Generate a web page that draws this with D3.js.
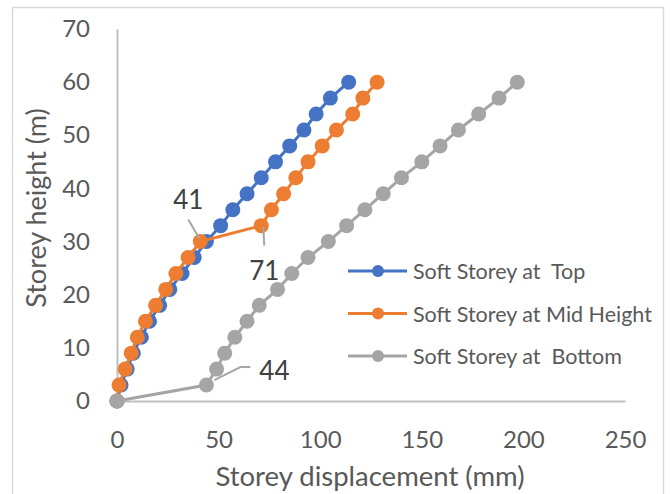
<!DOCTYPE html>
<html>
<head>
<meta charset="utf-8">
<script src="https://cdn.jsdelivr.net/npm/d3@7"></script>
<style>
  body { margin: 0; background: #fff; }
  svg text { font-family: Lato, "Open Sans", sans-serif; }
</style>
</head>
<body>
<div id="chart"></div>
<script>
var width = 670,
    height = 494;

// storey heights (m) and displacements (mm)
var heights = [0, 3, 6, 9, 12, 15, 18, 21, 24, 27, 30, 33, 36, 39, 42, 45, 48, 51, 54, 57, 60];
var topDisp = [0, 2, 5, 8, 12, 16, 21, 26, 32, 38, 44, 51, 57, 64, 71, 78, 85, 92, 98, 105, 114];
var midDisp = [0, 1, 4, 7, 10, 14, 19, 24, 29, 35, 41, 71, 76, 82, 88, 94, 101, 108, 116, 121, 128];
var bottomDisp = [0, 44, 49, 53, 58, 64, 70, 79, 86, 94, 104, 113, 122, 131, 140, 150, 159, 168, 178, 188, 197];

var seriesNames = ["Soft Storey at  Top", "Soft Storey at Mid Height", "Soft Storey at  Bottom"];
var seriesColors = ["#4472C4", "#ED7D31", "#A5A5A5"];
var xTicks = [0, 50, 100, 150, 200, 250];
var yTicks = [0, 10, 20, 30, 40, 50, 60, 70];

var series = [topDisp, midDisp, bottomDisp].map(function (d, i) {
  return {
    name: seriesNames[i],
    color: seriesColors[i],
    points: d.map(function (v, j) { return {x: v, y: heights[j]}; })
  };
});

// labelled points: series index, point index, label offset, leader path offsets
var labels = [
  {s: 1, p: 10, dx: -12, dy: -43, leader: [[-12, -22], [-1, -3]]},
  {s: 1, p: 11, dx: 3, dy: 44, leader: [[2, 1], [3, 20]]},
  {s: 2, p: 1, dx: 68, dy: -15, leader: [[8, -5], [34, -18], [44, -18]]}
];

var x = d3.scaleLinear().domain([0, 250]).range([117, 625]);
var y = d3.scaleLinear().domain([0, 70]).range([401, 29]);

var svg = d3.select('#chart').append('svg')
    .attr('width', width)
    .attr('height', height);

svg.append('rect')
    .attr('x', 12.5).attr('y', 7.5)
    .attr('width', 651).attr('height', 500)
    .style('fill', '#fff')
    .style('stroke', '#d9d9d9')
    .style('stroke-width', 1.5);

var xAxis = svg.append('g')
    .attr('transform', 'translate(0,' + y(0) + ')')
    .call(d3.axisBottom(x).tickValues(xTicks).tickSize(0).tickSizeOuter(0).tickPadding(30));
var yAxis = svg.append('g')
    .attr('transform', 'translate(' + x(0) + ',0)')
    .call(d3.axisLeft(y).tickValues(yTicks).tickSize(0).tickSizeOuter(0).tickPadding(27));

[xAxis, yAxis].forEach(function (g) {
  g.select('.domain').style('stroke', '#bfbfbf').style('stroke-width', 2);
  g.selectAll('text').style('font-size', '24px').style('fill', '#595959');
});

// axis titles
svg.append('text')
    .attr('x', 370).attr('y', 475)
    .attr('text-anchor', 'middle')
    .attr('dominant-baseline', 'central')
    .style('font-size', '27.5px').style('fill', '#595959')
    .text('Storey displacement (mm)');
svg.append('text')
    .attr('transform', 'translate(35,208) rotate(-90)')
    .attr('text-anchor', 'middle')
    .attr('dominant-baseline', 'central')
    .style('font-size', '27px').style('fill', '#595959')
    .text('Storey height (m)');

var line = d3.line()
    .x(function (d) { return x(d.x); })
    .y(function (d) { return y(d.y); });

var sg = svg.selectAll('g.series').data(series)
  .enter().append('g').attr('class', 'series');

sg.append('path')
    .attr('d', function (d) { return line(d.points); })
    .style('fill', 'none')
    .style('stroke', function (d) { return d.color; })
    .style('stroke-width', 3);

sg.selectAll('circle').data(function (d) { return d.points.map(function (p) { return {p: p, c: d.color}; }); })
  .enter().append('circle')
    .attr('cx', function (d) { return x(d.p.x); })
    .attr('cy', function (d) { return y(d.p.y); })
    .attr('r', 7.5)
    .style('fill', function (d) { return d.c; });

// data labels with leader lines
labels.forEach(function (l) {
  var pt = series[l.s].points[l.p],
      px = x(pt.x), py = y(pt.y);
  svg.append('path')
      .attr('d', d3.line()(l.leader.map(function (o) { return [px + o[0], py + o[1]]; })))
      .style('fill', 'none')
      .style('stroke', '#a6a6a6')
      .style('stroke-width', 2);
  svg.append('text')
      .attr('x', px + l.dx).attr('y', py + l.dy)
      .attr('text-anchor', 'middle')
      .attr('dominant-baseline', 'central')
      .style('font-size', '26px').style('fill', '#404040')
      .text(pt.x);
});

// legend
var lg = svg.selectAll('g.legend').data(series)
  .enter().append('g').attr('class', 'legend')
    .attr('transform', function (d, i) { return 'translate(348,' + (271 + i * 42.5) + ')'; });
lg.append('line')
    .attr('x1', 0).attr('x2', 59)
    .style('stroke', function (d) { return d.color; })
    .style('stroke-width', 3);
lg.append('circle')
    .attr('cx', 30).attr('r', 6)
    .style('fill', function (d) { return d.color; });
lg.append('text')
    .attr('x', 65)
    .attr('dominant-baseline', 'central')
    .style('white-space', 'pre')
    .style('font-size', '21.5px').style('fill', '#595959')
    .text(function (d) { return d.name; });
</script>
</body>
</html>
